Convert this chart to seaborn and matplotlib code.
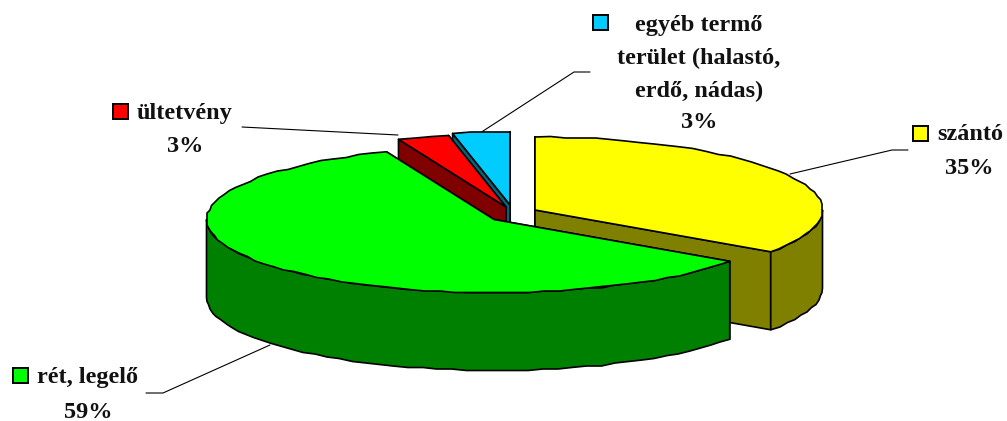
import numpy as np
import matplotlib
matplotlib.use("Agg")
import matplotlib.pyplot as plt
from matplotlib.patches import Polygon, Rectangle
import seaborn as sns

# terulet megoszlasa, %
labels = ["szántó", "rét, legelő", "ültetvény", "egyéb termő terület"]
values = [34.7, 59.2, 2.9, 3.2]
shown = ["35%", "59%", "3%", "3%"]

top_colors = sns.color_palette(["#FFFF00", "#00FF00", "#FF0000", "#00CCFF"])
side_colors = sns.color_palette(["#808000", "#008000", "#800000", "#006680"])

# kozeppontok (kirobbantott szeletek), pixelben
centers = [(535, 210), (494, 219.5), (506, 207), (510, 205)]
RX, RY, DEPTH = 287.5, 73, 78

sns.set_theme(style="white")
plt.rcParams["font.family"] = ["Liberation Serif", "DejaVu Serif"]
plt.rcParams["font.weight"] = "bold"

fig = plt.figure(figsize=(10.07, 4.21), dpi=100)
ax = fig.add_axes([0, 0, 1, 1])
ax.set_xlim(0, 1007)
ax.set_ylim(421, 0)
ax.axis("off")


def rim(c, a, b):
    # kicsit szogletes sokszog, mint az eredeti metafile
    n = max(int(abs(b - a) / 3), 1) + 1
    t = np.radians(np.linspace(a, b, n))
    pts = np.column_stack([c[0] + RX * np.sin(t), c[1] - RY * np.cos(t)])
    inner = np.round(pts[1:-1] / 1.5) * 1.5
    return np.vstack([pts[:1], inner, pts[-1:]])


def shape(pts, color, z):
    ax.add_patch(Polygon(pts, closed=True, fc=color, ec="black", lw=1.2,
                         joinstyle="round", zorder=z))


def slice3d(i, start, end, z):
    c = np.array(centers[i])
    down = np.array([0, DEPTH])
    t = np.radians([start, end])
    ends = c + np.column_stack([RX * np.sin(t), -RY * np.cos(t)])
    # vagott lapok, a hatso eloszor
    for k, p in enumerate(sorted(ends, key=lambda q: q[1])):
        shape([c, p, p + down, c + down], side_colors[i], z + k * 0.01)
    # palast, csak az elulso resz latszik
    a, b = max(start, 90), min(end, 270)
    if b > a:
        edge = rim(c, a, b)
        shape(np.vstack([edge, (edge + down)[::-1]]), side_colors[i], z + 0.1)
    shape(np.vstack([[c], rim(c, start, end)]), top_colors[i], z + 0.2)


angles = np.concatenate([[0], np.cumsum(values) * 3.6])
# hatulrol elore: kek, piros, sarga, zold
for z, i in enumerate([3, 2, 0, 1]):
    slice3d(i, angles[i], angles[i + 1], z + 1)

# vezetovonalak
leaders = [
    [(790, 174), (892, 150), (908, 150)],
    [(270, 345), (163, 393), (146, 393)],
    [(398, 135), (242, 127)],
    [(480, 133), (574, 72), (590, 72)],
]
for line in leaders:
    xs, ys = zip(*line)
    ax.plot(xs, ys, color="black", lw=0.8, zorder=0.5)

# jelmagyarazat negyzetek
keys = [(913, 126), (13, 368), (113, 104), (593, 15)]
for i, (x, y) in enumerate(keys):
    ax.add_patch(Rectangle((x, y), 15, 14.5, fc=top_colors[i], ec="black", lw=1.4, zorder=8))

text_kw = dict(fontsize=17.5, color="#111111", va="center", zorder=9)
ax.text(937, 135, labels[0], ha="left", **text_kw)
ax.text(969, 169, shown[0], ha="center", **text_kw)
ax.text(37, 378, labels[1], ha="left", **text_kw)
ax.text(88, 412, shown[1], ha="center", **text_kw)
ax.text(137, 114, labels[2], ha="left", **text_kw)
ax.text(185, 147, shown[2], ha="center", **text_kw)
ax.text(699, 25, "egyéb termő", ha="center", **text_kw)
ax.text(699, 58, "terület (halastó,", ha="center", **text_kw)
ax.text(699, 91, "erdő, nádas)", ha="center", **text_kw)
ax.text(699, 123, shown[3], ha="center", **text_kw)

fig.savefig("out.png", dpi=100, facecolor="white")
